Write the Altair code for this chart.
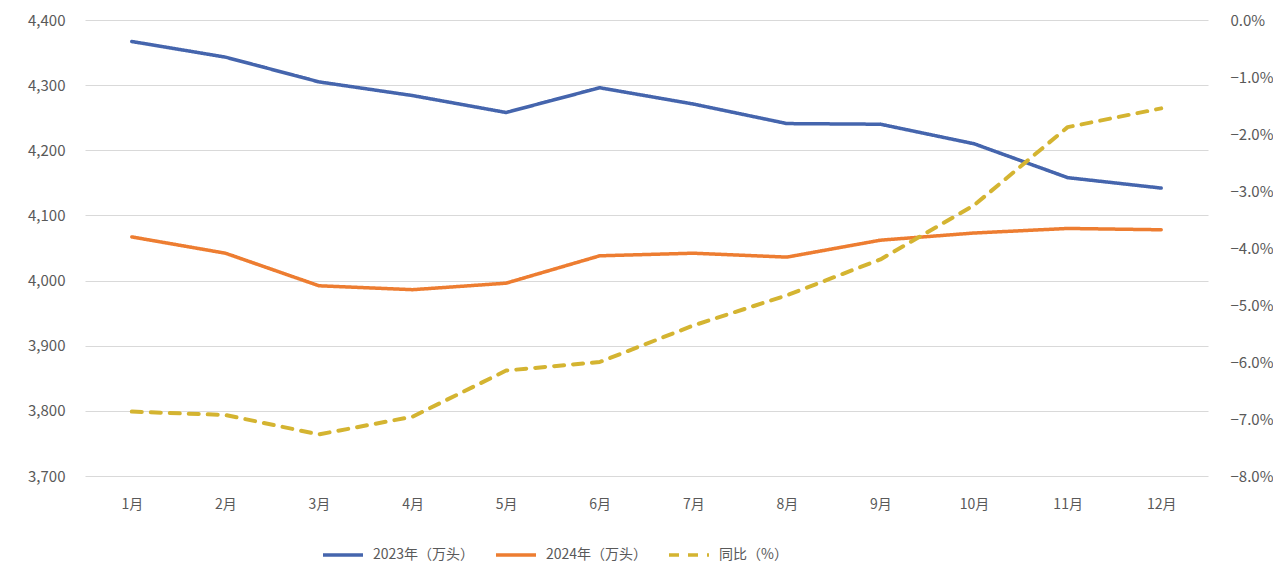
import altair as alt
import pandas as pd

months = ["1月", "2月", "3月", "4月", "5月", "6月", "7月", "8月", "9月", "10月", "11月", "12月"]
series_names = ["2023年（万头）", "2024年（万头）", "同比（%）"]
v2023 = [4367, 4343, 4305, 4284, 4258, 4296, 4271, 4241, 4240, 4210, 4158, 4142]
v2024 = [4067, 4042, 3992, 3986, 3996, 4038, 4042, 4036, 4062, 4073, 4080, 4078]
yoy = [-0.0687, -0.0693, -0.0727, -0.0696, -0.0615, -0.0600, -0.0536, -0.0483, -0.0420, -0.0325, -0.0188, -0.0155]

left_ticks = [3700, 3800, 3900, 4000, 4100, 4200, 4300, 4400]
right_ticks = [-0.08, -0.07, -0.06, -0.05, -0.04, -0.03, -0.02, -0.01, 0.0]

colors = ["#4565AD", "#ED7D31", "#D4B431"]
dashes = [[1, 0], [1, 0], [10, 9]]

vol = pd.DataFrame({
    "month": months * 2,
    "series": [series_names[0]] * 12 + [series_names[1]] * 12,
    "value": v2023 + v2024,
})
pct = pd.DataFrame({"month": months, "series": [series_names[2]] * 12, "value": yoy})

FONT = "Noto Sans CJK SC"
LABEL = "#595959"

x_enc = alt.X("month:N", sort=months, scale=alt.Scale(type="point", padding=0.5),
              axis=alt.Axis(title=None, domain=False, ticks=False, labelPadding=21,
                            labelFontSize=14, labelColor=LABEL, labelAngle=0, labelFont=FONT))

color_enc = alt.Color("series:N", scale=alt.Scale(domain=series_names, range=colors),
                      legend=alt.Legend(title=None, orient="none", direction="horizontal",
                                        legendX=236, legendY=513,
                                        symbolType="stroke", symbolSize=1600, symbolStrokeWidth=3.5,
                                        labelFontSize=14, labelColor=LABEL, labelFont=FONT,
                                        labelOffset=8, columnPadding=14))
dash_enc = alt.StrokeDash("series:N", scale=alt.Scale(domain=series_names, range=dashes), legend=None)

lines = alt.Chart(vol).mark_line(strokeWidth=3.5, strokeCap="round", strokeJoin="round").encode(
    x=x_enc,
    y=alt.Y("value:Q", scale=alt.Scale(domain=[3700, 4400], nice=False, zero=False),
            axis=alt.Axis(title=None, values=left_ticks, format=",d", domain=False, ticks=False,
                          labelPadding=20, labelFontSize=15, labelColor=LABEL, labelFont=FONT,
                          grid=True, gridColor="#D9D9D9", gridWidth=1)),
    color=color_enc,
    strokeDash=dash_enc,
)

yoy_line = alt.Chart(pct).mark_line(strokeWidth=4, strokeCap="round", strokeJoin="round").encode(
    x=x_enc,
    y=alt.Y("value:Q", scale=alt.Scale(domain=[-0.08, 0], nice=False, zero=False),
            axis=alt.Axis(title=None, orient="right", values=right_ticks, format=".1%",
                          domain=False, ticks=False, grid=False, labelPadding=22,
                          labelFontSize=15, labelColor=LABEL, labelFont=FONT)),
    color=color_enc,
    strokeDash=dash_enc,
)

chart = alt.layer(lines, yoy_line).resolve_scale(y="independent").properties(
    width=1123, height=456,
    autosize=alt.AutoSizeParams(type="none"),
    padding={"left": 77, "top": 12, "right": 65, "bottom": 94},
    background="white",
).configure_view(stroke=None)

chart.save("out.html", embed_options={"renderer": "svg", "actions": False})
